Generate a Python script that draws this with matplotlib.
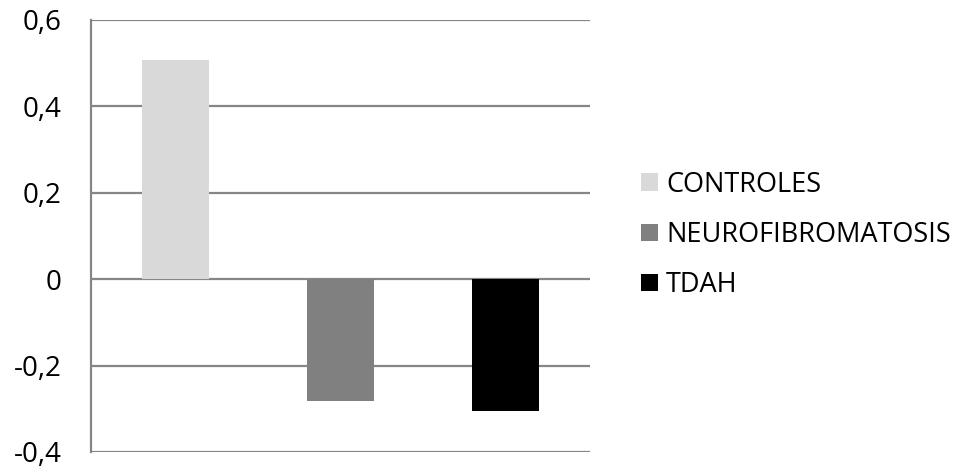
import matplotlib
matplotlib.use("Agg")
import matplotlib.pyplot as plt
from matplotlib.patches import Patch

# Series (one bar each) and their values
series = ["CONTROLES", "NEUROFIBROMATOSIS", "TDAH"]
values = [0.507, -0.281, -0.306]
colors = ["#d9d9d9", "#808080", "#000000"]

# Y axis ticks
yticks = [-0.4, -0.2, 0.0, 0.2, 0.4, 0.6]
yticklabels = ["-0,4", "-0,2", "0", "0,2", "0,4", "0,6"]

plt.rcParams["font.family"] = ["Open Sans", "DejaVu Sans"]

fig = plt.figure(figsize=(9.6, 4.72), dpi=100)
ax = fig.add_axes([91 / 960, 1 - 452 / 472, 499 / 960, 432 / 472])

x = list(range(len(series)))
ax.bar(x, values, width=0.406, color=colors, zorder=3)

ax.set_xlim(-0.51, 2.51)
ax.set_ylim(-0.4, 0.6)
ax.set_yticks(yticks)
ax.set_yticklabels(yticklabels, fontsize=20)
ax.set_xticks([])

grid_color = "#868686"
ax.yaxis.grid(True, color=grid_color, linewidth=1.6, zorder=1)
ax.tick_params(axis="y", length=0, pad=21, colors="black")
for side in ["top", "right", "bottom"]:
    ax.spines[side].set_visible(False)
ax.spines["left"].set_color(grid_color)
ax.spines["left"].set_linewidth(1.6)

handles = [Patch(facecolor=c, edgecolor="none") for c in colors]
fig.legend(handles, series, loc="center left",
           bbox_to_anchor=(641 / 960, 1 - 235 / 472),
           frameon=False, fontsize=19.5, handlelength=0.62, handleheight=0.62,
           handletextpad=0.3, labelspacing=0.82, borderpad=0, borderaxespad=0)

fig.savefig("out.png", dpi=100)
